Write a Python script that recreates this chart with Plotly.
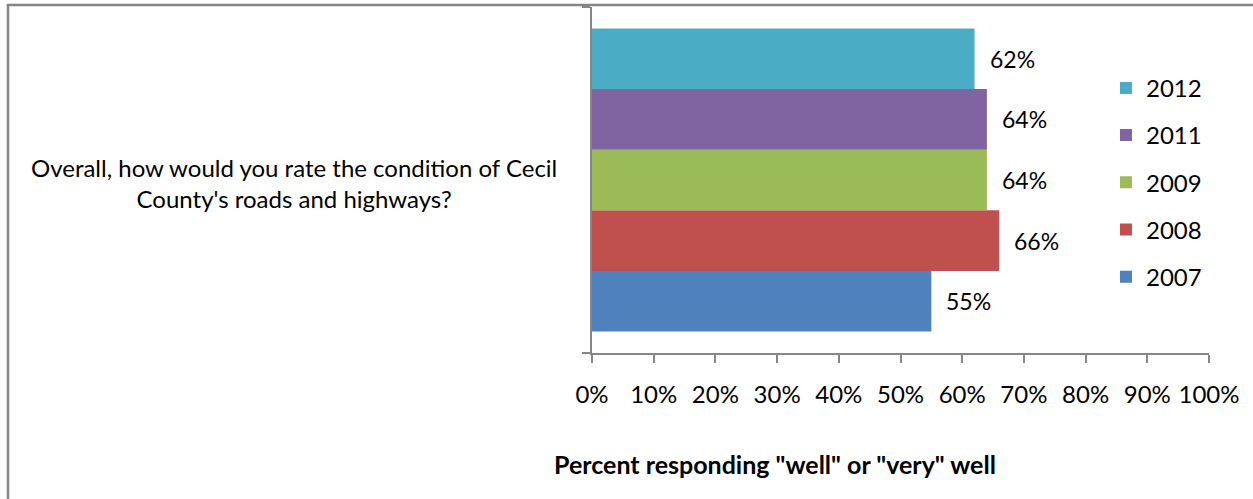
import plotly.graph_objects as go

# Survey results by year (share responding "well" or "very well")
years = ["2007", "2008", "2009", "2011", "2012"]
values = [55, 66, 64, 64, 62]
colors = ["#4F81BD", "#C0504D", "#9BBB59", "#8064A2", "#4BACC6"]
question = "Overall, how would you rate the condition of Cecil<br>County's roads and highways?"
x_ticks = [0, 10, 20, 30, 40, 50, 60, 70, 80, 90, 100]
x_title = 'Percent responding "well" or "very" well'

FONT = "Lato"
FS = 24
AXIS_GREY = "#868686"

fig = go.Figure()
n = len(years)
for i, (yr, v, c) in enumerate(zip(years, values, colors)):
    fig.add_trace(go.Bar(
        x=[v], y=[0], orientation="h", name=yr,
        marker=dict(color=c, line=dict(width=0)),
        legendgroup=yr, legendrank=1000 + (n - i),
    ))

# value labels to the right of each bar
group_w = 1 - 0.124
bar_w = group_w / n
for i, v in enumerate(values):
    ypos = -group_w / 2 + bar_w * (i + 0.5)
    fig.add_annotation(
        x=v, y=ypos, xref="x", yref="y", text=f"{v}%",
        showarrow=False, xanchor="left", xshift=13,
        font=dict(family=FONT, size=23, color="#000"),
    )

# category label
fig.add_annotation(
    x=-0.483, y=0.49, xref="paper", yref="paper", text=question,
    showarrow=False, align="center", xanchor="center", yanchor="middle",
    font=dict(family=FONT, size=FS, color="#000"),
)
# x axis title
fig.add_annotation(
    x=0.2966, y=-0.322, xref="paper", yref="paper", text=f"<b>{x_title}</b>",
    showarrow=False, xanchor="center", yanchor="middle",
    font=dict(family=FONT, size=25, color="#000"),
)

# outer frame (left and top edges)
fig.add_shape(type="line", xref="paper", yref="paper",
              x0=-0.9465, x1=-0.9465, y0=1.0058, y1=-0.45,
              line=dict(color=AXIS_GREY, width=2.5))
fig.add_shape(type="line", xref="paper", yref="paper",
              x0=-0.9485, x1=1.08, y0=1.0058, y1=1.0058,
              line=dict(color=AXIS_GREY, width=2.5))

fig.update_layout(
    width=1253, height=499,
    margin=dict(l=592, r=44, t=7, b=146),
    paper_bgcolor="white", plot_bgcolor="white",
    barmode="group", bargap=0.124,
    font=dict(family=FONT, size=FS, color="#000"),
    showlegend=True,
    legend=dict(
        x=0.833, y=0.83, xanchor="left", yanchor="top",
        traceorder="grouped", tracegroupgap=13,
        font=dict(family=FONT, size=FS, color="#000"),
        itemwidth=30,
    ),
    xaxis=dict(
        range=[0, 100], tickvals=x_ticks, ticktext=[f"{t}%" for t in x_ticks],
        showgrid=False, zeroline=False, showline=True, linecolor=AXIS_GREY, linewidth=2,
        ticks="outside", ticklen=8, tickcolor=AXIS_GREY, tickwidth=2,
        ticklabelstandoff=11, tickfont=dict(family=FONT, size=FS),
    ),
    yaxis=dict(
        type="linear", range=[-0.5, 0.5], tickvals=[-0.5, 0.5],
        showticklabels=False, showgrid=False, zeroline=False,
        showline=True, linecolor=AXIS_GREY, linewidth=2,
        ticks="outside", ticklen=8, tickcolor=AXIS_GREY, tickwidth=2,
    ),
)

fig.write_html("out.html")
